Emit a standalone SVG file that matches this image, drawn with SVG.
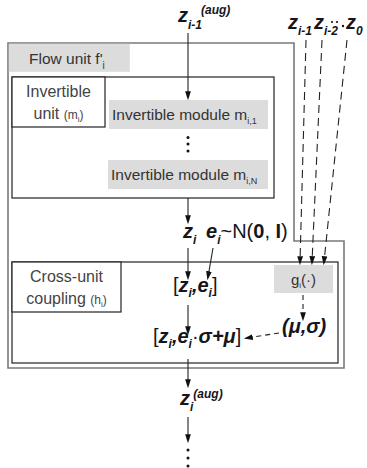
<svg xmlns="http://www.w3.org/2000/svg" width="367" height="468" viewBox="0 0 367 468">
<style>
.outer{fill:#fff;stroke:#7a7a7a;stroke-width:1.6}
.box{fill:none;stroke:#222;stroke-width:1.2}
.lbox{fill:#fff;stroke:#222;stroke-width:1.2}
.gray{fill:#dcdcdc;stroke:none}
.lbl{font-family:"Liberation Sans",Arial,sans-serif;font-size:16px;fill:#444}
.mod{font-family:"Liberation Sans",Arial,sans-serif;font-size:15.5px;fill:#333}
.m{font-family:"Liberation Sans",Arial,sans-serif;font-size:20px;font-weight:bold;font-style:italic;fill:#151520}
.n{font-style:normal;font-weight:normal}
.b{font-style:normal;font-weight:bold}
.s{font-size:12px}
.sup{font-size:12px}
.ln{stroke:#222;stroke-width:1.1;fill:none}
.dash{stroke:#222;stroke-width:1.1;fill:none;stroke-dasharray:8 5}
.dash2{stroke:#222;stroke-width:1.1;fill:none;stroke-dasharray:5 4}
</style>
<defs>
<marker id="ah" markerWidth="9" markerHeight="14" refX="9" refY="4.5" orient="auto" markerUnits="userSpaceOnUse" viewBox="0 0 14 9">
<path d="M0,0 L14,4.5 L0,9 Z" fill="#111"/>
</marker>
</defs>

<g id="flow-unit">
<path class="outer" d="M8,43 H294 V241 H344 V368 H8 Z"/>
<rect class="gray" x="8.8" y="43.8" width="121" height="28"/>
<text class="lbl" x="29" y="64" style="font-size:15.5px;fill:#333">Flow unit f'<tspan dy="5" style="font-size:10px">i</tspan></text>
</g>

<g id="invertible-unit">
<rect class="box" x="12" y="77" width="262" height="121"/>
<rect class="lbox" x="12" y="77" width="93" height="50"/>
<text class="lbl" x="58.5" y="97" text-anchor="middle">Invertible</text>
<text class="lbl" x="58.5" y="119" text-anchor="middle">unit <tspan style="font-size:12px">(m</tspan><tspan style="font-size:8px" dy="3">i</tspan><tspan style="font-size:12px" dy="-3">)</tspan></text>
</g>

<g id="module-1">
<rect class="gray" x="109" y="100" width="159" height="29"/>
<text class="mod" x="112" y="120">Invertible module m<tspan style="font-size:9px" dy="4">i,1</tspan></text>
</g>

<g id="module-dots">
<circle cx="188" cy="137.5" r="1.5" fill="#111"/>
<circle cx="188" cy="144" r="1.5" fill="#111"/>
<circle cx="188" cy="151" r="1.5" fill="#111"/>
</g>

<g id="module-N">
<rect class="gray" x="108" y="160" width="160" height="29"/>
<text class="mod" x="111" y="180">Invertible module m<tspan style="font-size:9px" dy="4">i,N</tspan></text>
</g>

<g id="coupling">
<rect class="box" x="12" y="262" width="326" height="101"/>
<rect class="lbox" x="12" y="262" width="109" height="50"/>
<text class="lbl" x="66.5" y="282" text-anchor="middle">Cross-unit</text>
<text class="lbl" x="66.5" y="304" text-anchor="middle">coupling <tspan style="font-size:12px">(h</tspan><tspan style="font-size:8px" dy="3">i</tspan><tspan style="font-size:12px" dy="-3">)</tspan></text>
</g>

<g id="g-func">
<rect class="gray" x="274" y="265" width="59" height="28"/>
<text class="mod" x="303.5" y="285" text-anchor="middle" style="font-size:15px">g<tspan style="font-size:8px" dy="3">i</tspan><tspan dy="-3">(·)</tspan></text>
</g>

<g id="z-prev-aug">
<text class="m" x="178" y="22">z<tspan class="s" dy="7">i-1</tspan><tspan class="sup" dx="-1" dy="-15">(aug)</tspan></text>
</g>

<g id="z-history">
<text class="m" x="288" y="29">z<tspan class="s" dy="6">i-1</tspan></text>
<text class="m" x="314" y="29">z<tspan class="s" dy="6">i-2</tspan></text>
<circle cx="332" cy="22" r="1.1" fill="#151520"/>
<circle cx="337" cy="22" r="1.1" fill="#151520"/>
<circle cx="343" cy="26" r="1.2" fill="#151520"/>
<text class="m" x="346" y="29">z<tspan class="s" dy="6">0</tspan></text>
</g>

<g id="z-e-line">
<text class="m" x="183" y="238">z<tspan class="s" dy="6">i</tspan></text>
<text class="m" x="206" y="238">e<tspan class="s" dy="6">i</tspan><tspan class="n" dy="-6">~N(</tspan><tspan class="b">0</tspan><tspan class="n">, </tspan><tspan class="b">I</tspan><tspan class="n">)</tspan></text>
</g>

<g id="ze-concat">
<text class="m" x="173" y="292"><tspan class="n">[</tspan>z<tspan class="s" dy="5">i</tspan><tspan dy="-5">,e</tspan><tspan class="s" dy="5">i</tspan><tspan class="n" dy="-5">]</tspan></text>
</g>

<g id="mu-sigma">
<text class="m" x="282" y="333">(μ,σ)</text>
</g>

<g id="ze-out">
<text class="m" x="153" y="343"><tspan class="n">[</tspan>z<tspan class="s" dy="5">i</tspan><tspan dy="-5">,e</tspan><tspan class="s" dy="5">i</tspan><tspan class="n" dy="-5">·</tspan>σ+μ<tspan class="n">]</tspan></text>
</g>

<g id="z-aug">
<text class="m" x="180" y="405">z<tspan class="s" dy="6">i</tspan><tspan class="sup" dy="-13">(aug)</tspan></text>
</g>

<g id="end-dots">
<circle cx="188" cy="450" r="1.5" fill="#111"/>
<circle cx="188" cy="458" r="1.5" fill="#111"/>
<circle cx="188" cy="466" r="1.5" fill="#111"/>
</g>

<g id="connectors">
<line class="ln" x1="188" y1="33" x2="188" y2="97" marker-end="url(#ah)"/>
<line class="ln" x1="188" y1="198" x2="188" y2="221" marker-end="url(#ah)"/>
<line class="ln" x1="188" y1="248" x2="188" y2="277" marker-end="url(#ah)"/>
<line class="ln" x1="213" y1="248" x2="208" y2="277" marker-end="url(#ah)"/>
<line class="ln" x1="188" y1="305" x2="188" y2="332" marker-end="url(#ah)"/>
<line class="ln" x1="188" y1="359" x2="188" y2="385" marker-end="url(#ah)"/>
<line class="ln" x1="188" y1="417" x2="188" y2="440" marker-end="url(#ah)"/>
<line class="dash" x1="306" y1="40" x2="300" y2="262" marker-end="url(#ah)"/>
<line class="dash" x1="322" y1="40" x2="312" y2="262" marker-end="url(#ah)"/>
<line class="dash" x1="347" y1="40" x2="324" y2="262" marker-end="url(#ah)"/>
<line class="dash2" x1="303" y1="295" x2="303" y2="318" marker-end="url(#ah)"/>
<line class="dash2" x1="279" y1="333" x2="247" y2="338" marker-end="url(#ah)"/>
</g>
</svg>
